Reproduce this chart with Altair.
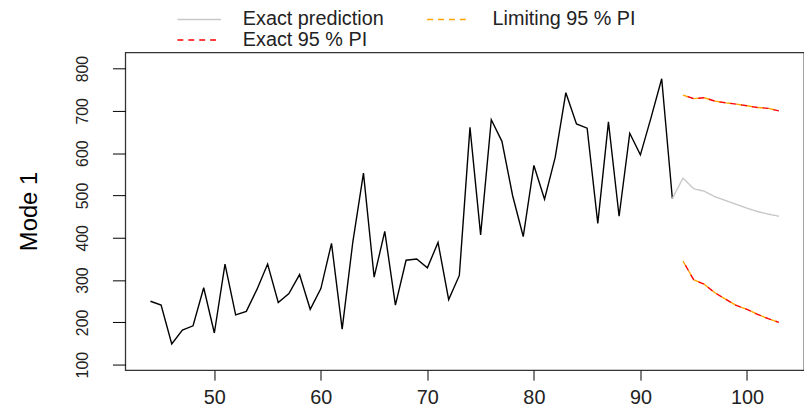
import altair as alt
import pandas as pd

# ---- data ----
obs_x = list(range(44, 94))
obs_y = [250, 241, 149, 182, 192, 282, 175, 338, 218, 226,
         278, 338, 247, 268, 313, 231, 280, 387, 184, 390,
         553, 307, 415, 241, 347, 350, 329, 389, 254, 311,
         661, 407, 679, 628, 500, 403, 571, 491, 590, 743,
         669, 659, 434, 674, 451, 647, 596, 684, 776, 493]

pred_x = list(range(93, 104))
pred_y = [493, 541, 516, 510, 497, 488, 479, 470, 462, 456, 451]

pi_x = list(range(94, 104))
pi_upper = [737, 729, 731, 723, 719, 716, 712, 708, 706, 700]
pi_lower = [345, 301, 290, 270, 255, 240, 231, 219, 209, 200]

legend_names = ["Exact prediction", "Limiting 95 % PI", "Exact 95 % PI"]
legend_colors = ["#c8c8c8", "orange", "red"]
legend_dashes = [[1, 0], [6, 5], [6, 5]]

x_ticks = [50, 60, 70, 80, 90, 100]
y_ticks = [100, 200, 300, 400, 500, 600, 700, 800]

# ---- tables ----
obs_df = pd.DataFrame({"x": obs_x, "y": obs_y})
pred_df = pd.DataFrame({"x": pred_x, "y": pred_y, "series": legend_names[0], "bound": "mid"})


def pi_table(name):
    up = pd.DataFrame({"x": pi_x, "y": pi_upper, "series": name, "bound": "upper"})
    lo = pd.DataFrame({"x": pi_x, "y": pi_lower, "series": name, "bound": "lower"})
    return pd.concat([up, lo], ignore_index=True)


lim_df = pi_table(legend_names[1])
exa_df = pi_table(legend_names[2])

FONT = "Liberation Sans"

x_enc = alt.X(
    "x:Q",
    scale=alt.Scale(domain=[41.64, 105.36], nice=False, zero=False),
    axis=alt.Axis(values=x_ticks, title=None, domain=False, grid=False,
                  tickSize=10, tickColor="black", tickWidth=1,
                  labelFontSize=20, labelFont=FONT, labelColor="#222",
                  labelPadding=8),
)
y_enc = alt.Y(
    "y:Q",
    scale=alt.Scale(domain=[87, 838], nice=False, zero=False),
    axis=alt.Axis(values=y_ticks, title="Mode 1", domain=False, grid=False,
                  tickSize=13, tickColor="black", tickWidth=1,
                  labelFontSize=16, labelFont=FONT, labelColor="#222",
                  labelAngle=270, labelAlign="center", labelBaseline="middle",
                  labelPadding=30,
                  titleFont=FONT, titleFontSize=24, titleFontWeight="normal",
                  titleColor="black", titleAngle=270, titleAlign="center",
                  titleBaseline="middle", titleX=-97, titleY=160),
)

leg = alt.Legend(
    title=None, orient="none", legendX=51.6, legendY=-43, columns=2,
    direction="horizontal", symbolType="stroke", symbolSize=1936,
    symbolStrokeWidth=1.5, labelFont=FONT, labelFontSize=20,
    labelColor="#222", labelOffset=21, columnPadding=42, rowPadding=0,
    padding=0, clipHeight=19,
)
color_enc = alt.Color("series:N", scale=alt.Scale(domain=legend_names, range=legend_colors), legend=leg)
dash_enc = alt.StrokeDash("series:N", scale=alt.Scale(domain=legend_names, range=legend_dashes), legend=leg)

obs_layer = alt.Chart(obs_df).mark_line(color="black", strokeWidth=1.4).encode(x=x_enc, y=y_enc)
pred_layer = alt.Chart(pred_df).mark_line(strokeWidth=1.4).encode(
    x=x_enc, y=y_enc, color=color_enc, strokeDash=dash_enc, detail="bound:N")
lim_layer = alt.Chart(lim_df).mark_line(strokeWidth=1.4).encode(
    x=x_enc, y=y_enc, color=color_enc, strokeDash=dash_enc, detail="bound:N")
exa_layer = alt.Chart(exa_df).mark_line(strokeWidth=1.4, strokeDashOffset=6).encode(
    x=x_enc, y=y_enc, color=color_enc, strokeDash=dash_enc, detail="bound:N")

chart = (
    alt.layer(obs_layer, pred_layer, lim_layer, exa_layer)
    .properties(
        width=685, height=320.7,
        padding={"left": 118.4, "top": 43, "right": 0, "bottom": 44},
        autosize=alt.AutoSizeParams(type="none"),
        background="white",
    )
    .configure_view(stroke="#333", strokeWidth=1.3)
)

chart.save("out.html", embed_options={"renderer": "svg", "actions": False})
